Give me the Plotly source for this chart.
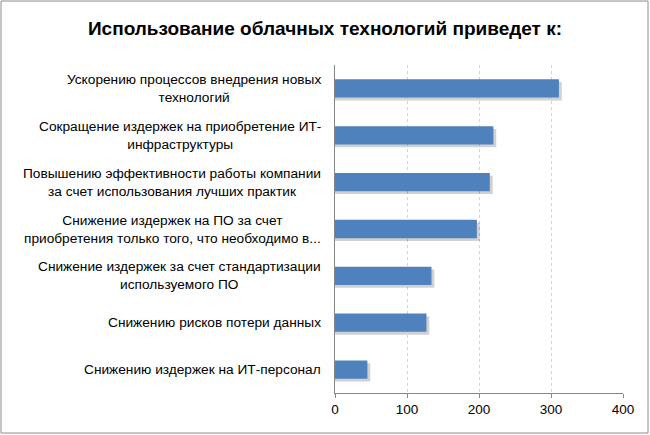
import plotly.graph_objects as go

# Данные графика (сверху вниз)
categories = [
    "Ускорению процессов внедрения новых<br>технологий",
    "Сокращение издержек на приобретение ИТ-<br>инфраструктуры",
    "Повышению эффективности работы компании<br>за счет использования лучших практик",
    "Снижение издержек на ПО за счет<br>приобретения только того, что необходимо в...",
    "Снижение издержек за счет стандартизации<br>используемого ПО",
    "Снижению рисков потери данных",
    "Снижению издержек на ИТ-персонал",
]
values = [311, 220, 215, 197, 134, 127, 45]
x_ticks = [0, 100, 200, 300, 400]

bar_color = "#4F81BD"
font_family = "Liberation Sans, Arial, sans-serif"
bar_width = 0.39

fig = go.Figure()

# Тень под столбцами (как в Excel)
fig.add_trace(
    go.Bar(
        y=categories,
        x=[v + 4 for v in values],
        orientation="h",
        width=bar_width,
        offset=-bar_width / 2 + 0.06,
        marker=dict(color="rgba(0,0,0,0.18)", line=dict(width=0)),
        hoverinfo="skip",
        showlegend=False,
    )
)

# Основные столбцы
fig.add_trace(
    go.Bar(
        y=categories,
        x=values,
        orientation="h",
        width=bar_width,
        offset=-bar_width / 2,
        marker=dict(color=bar_color, line=dict(width=0)),
        showlegend=False,
    )
)

# Подписи категорий: блок выровнен вправо, строки по центру
for cat in categories:
    fig.add_annotation(
        x=0, xref="paper", y=cat, yref="y",
        text=cat, showarrow=False,
        xanchor="right", yanchor="middle", align="center",
        xshift=-12,
        font=dict(family=font_family, size=13.7, color="#000000"),
    )

# Рамка вокруг всей диаграммы
fig.add_shape(
    type="rect", xref="paper", yref="paper",
    x0=(1 - 335) / 288, x1=(648 - 335) / 288,
    y0=(393 - 433) / 328, y1=(393 - 1) / 328,
    line=dict(color="#8c8c8c", width=1),
    layer="below",
)

fig.update_layout(
    width=650,
    height=435,
    margin=dict(l=335, r=27, t=65, b=42),
    paper_bgcolor="white",
    plot_bgcolor="white",
    barmode="overlay",
    title=dict(
        text="<b>Использование облачных технологий приведет к:</b>",
        x=0.5, xanchor="center",
        y=1 - 28 / 435, yanchor="middle",
        font=dict(family=font_family, size=19, color="#000000"),
    ),
    xaxis=dict(
        range=[0, 400],
        tickvals=x_ticks,
        showgrid=True,
        gridcolor="#d4d4d4",
        griddash="3px,3px",
        gridwidth=1,
        showline=True,
        linecolor="#868686",
        ticks="outside",
        ticklen=4,
        tickcolor="#868686",
        tickfont=dict(family=font_family, size=13.5, color="#000000"),
        zeroline=False,
        fixedrange=True,
    ),
    yaxis=dict(
        autorange="reversed",
        showticklabels=False,
        showline=True,
        linecolor="#868686",
        showgrid=False,
        fixedrange=True,
    ),
)

fig.write_html(
    "out.html",
    config={"displayModeBar": False},
    post_script="document.body.style.margin='0';",
)
